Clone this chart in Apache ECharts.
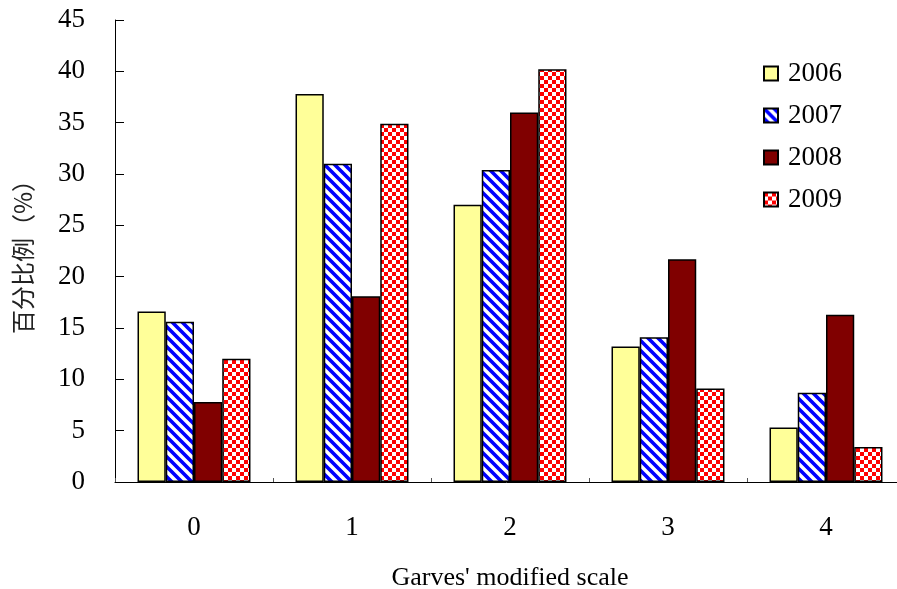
<!DOCTYPE html>
<html>
<head>
<meta charset="utf-8">
<script src="https://cdn.jsdelivr.net/npm/echarts@6/dist/echarts.min.js"></script>
<style>
  html, body { margin: 0; padding: 0; background: #fff; overflow: hidden; }
  #chart { width: 897px; height: 589px; }
</style>
</head>
<body>
<div id="chart"></div>
<script>
// Percentage of cases at each Garves' modified scale grade, by year
const categories = ['0', '1', '2', '3', '4'];
const years = ['2006', '2007', '2008', '2009'];
const values2006 = [16.6, 37.8, 27.0, 13.2, 5.3];
const values2007 = [15.6, 31.0, 30.4, 14.1, 8.7];
const values2008 = [7.8, 18.1, 36.0, 21.7, 16.3];
const values2009 = [12.0, 34.9, 40.2, 9.1, 3.4];
const yTicks = { min: 0, max: 45, interval: 5 };

// Blue diagonal stripes on white
function stripeTile() {
  const c = document.createElement('canvas');
  const s = 10;
  c.width = s; c.height = s;
  const g = c.getContext('2d');
  g.fillStyle = '#ffffff';
  g.fillRect(0, 0, s, s);
  g.strokeStyle = '#0000ff';
  g.lineWidth = 3.6;
  g.beginPath();
  g.moveTo(-2, -2); g.lineTo(s + 2, s + 2);
  g.moveTo(-2, s - 2); g.lineTo(2, s + 2);
  g.moveTo(s - 2, -2); g.lineTo(s + 2, 2);
  g.stroke();
  return c;
}

// Red / white checkerboard
function checkerTile() {
  const c = document.createElement('canvas');
  const cell = 4;
  c.width = cell * 2; c.height = cell * 2;
  const g = c.getContext('2d');
  g.fillStyle = '#ffffff';
  g.fillRect(0, 0, cell * 2, cell * 2);
  g.fillStyle = '#ff0000';
  g.fillRect(0, 0, cell, cell);
  g.fillRect(cell, cell, cell, cell);
  return c;
}

const fills = [
  '#ffff99',
  { image: stripeTile(), repeat: 'repeat' },
  '#800000',
  { image: checkerTile(), repeat: 'repeat' }
];
const seriesValues = [values2006, values2007, values2008, values2009];

const serif = '"Liberation Serif", "Times New Roman", serif';

const chart = echarts.init(document.getElementById('chart'), null, { renderer: 'canvas' });
chart.setOption({
  animation: false,
  backgroundColor: '#ffffff',
  grid: { left: 115, top: 20, bottom: 107, width: 790, containLabel: false, outerBoundsMode: 'none' },
  legend: {
    orient: 'vertical',
    left: 763,
    top: 60,
    padding: 0,
    itemWidth: 14,
    itemHeight: 14,
    itemGap: 15,
    icon: 'rect',
    textStyle: { fontFamily: serif, fontSize: 27, color: '#000', lineHeight: 27, padding: [0, 0, 0, 5] },
    data: years
  },
  xAxis: {
    type: 'category',
    data: categories,
    boundaryGap: true,
    name: "Garves' modified scale",
    nameLocation: 'middle',
    nameGap: 83,
    nameTextStyle: { fontFamily: serif, fontSize: 26, color: '#000' },
    axisLine: { lineStyle: { color: '#000', width: 1 } },
    axisTick: { show: true, inside: true, length: 4, interval: 0, lineStyle: { color: '#555' } },
    axisLabel: { fontFamily: serif, fontSize: 27, color: '#000', margin: 32 }
  },
  yAxis: {
    type: 'value',
    min: yTicks.min,
    max: yTicks.max,
    interval: yTicks.interval,
    name: '百分比例（%）',
    nameLocation: 'middle',
    nameGap: 80,
    nameRotate: 90,
    nameTextStyle: { fontFamily: '"Noto Sans CJK SC", sans-serif', fontSize: 24, color: '#222' },
    splitLine: { show: false },
    axisLine: { show: true, lineStyle: { color: '#000', width: 1 } },
    axisTick: { show: true, inside: true, length: 9, lineStyle: { color: '#000' } },
    axisLabel: { fontFamily: serif, fontSize: 27, color: '#000', margin: 30 }
  },
  series: years.map((y, i) => ({
    name: y,
    type: 'bar',
    data: seriesValues[i],
    barGap: '0%',
    barCategoryGap: '28.5%',
    itemStyle: { color: fills[i], borderColor: '#000', borderWidth: 1.5 }
  }))
});
</script>
</body>
</html>
